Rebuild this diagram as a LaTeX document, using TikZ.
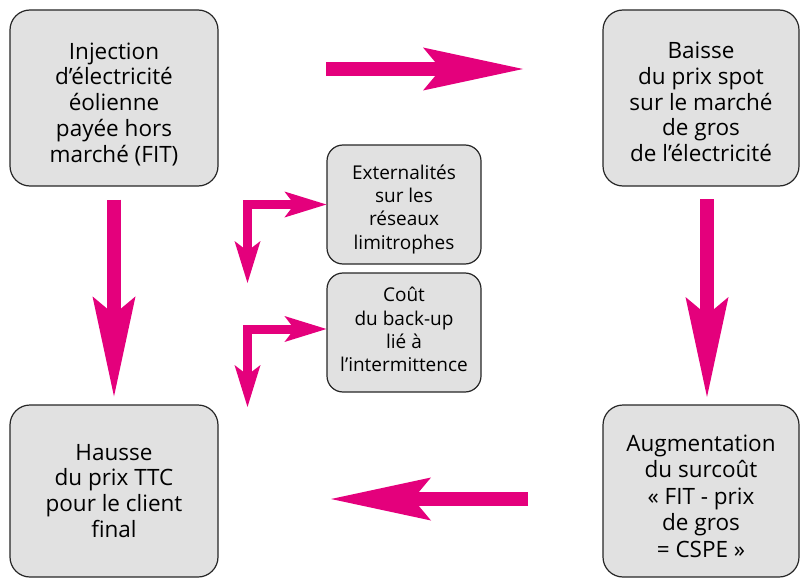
\documentclass[tikz,border=0pt]{standalone}
\usepackage{fontspec}
\setmainfont{Open Sans}
\usepackage{xcolor}
\usetikzlibrary{arrows.meta, positioning}

\definecolor{fitpink}{RGB}{228,0,124}
\definecolor{boxgrey}{RGB}{225,225,225}

% centred lines, moved up or down inside the box
\newcommand{\boxlines}[2][0pt]{\raisebox{#1}[\height][\depth]{\begin{tabular}{@{}c@{}}#2\end{tabular}}}

\tikzset{
  bigbox/.style={draw=black!85, line width=1.2pt, fill=boxgrey, rounded corners=20pt,
    inner sep=0pt, minimum height=176pt, font=\fontsize{22.5}{25.7}\selectfont},
  smallbox/.style={bigbox, rounded corners=16pt, minimum width=154pt, minimum height=119pt,
    font=\fontsize{19}{23.3}\selectfont},
  bigtip/.style={-{Stealth[length=100pt, width=43pt, inset=18pt, line width=0pt]}},
  bigarrow/.style={draw=fitpink, line width=14pt, bigtip},
  smalltip/.tip={Stealth[length=42pt, width=26pt, inset=10pt, line width=0pt]},
  smallarrow/.style={draw=fitpink, line width=9pt, line join=miter, smalltip-smalltip}
}

\begin{document}
\begin{tikzpicture}[x=1pt, y=-1pt]
\useasboundingbox (0,0) rectangle (801,578);

% boxes
\node[bigbox, minimum width=208pt] (inj) at (114,98) {\boxlines[-7.5pt]{Injection\\d’électricité\\éolienne\\payée hors\\marché (FIT)}};
\node[bigbox, minimum width=196pt] (baisse) at (701,98) {\boxlines[-7pt]{Baisse\\du prix spot\\sur le marché\\de gros\\de l’électricité}};
\node[bigbox, minimum width=208pt, minimum height=172pt] (hausse) at (114,491) {\boxlines[-2.5pt]{Hausse\\du prix TTC\\pour le client\\final}};
\node[bigbox, minimum width=196pt, minimum height=172pt, font=\fontsize{22.5}{26.5}\selectfont] (augm) at (701,491) {\boxlines[-8pt]{Augmentation\\du surcoût\\« FIT - prix\\de gros\\= CSPE »}};
\node[smallbox] (ext) at (404,204.5) {\boxlines[-5pt]{Externalités\\sur les\\réseaux\\limitrophes}};
\node[smallbox] (cout) at (404,332.5) {\boxlines[0.5pt]{Coût\\du back-up\\lié à\\l’intermittence}};

% big arrows
\coordinate (inj-out) at (326,69);
\coordinate (baisse-in) at (523,69);
\coordinate (baisse-out) at (707,199);
\coordinate (augm-in) at (707,397);
\coordinate (augm-out) at (528,499);
\coordinate (hausse-in) at (331,499);
\draw[bigarrow] (inj-out) -- (baisse-in);
\draw[bigarrow] (baisse-out) -- (augm-in);
\draw[bigarrow] (augm-out) -- (hausse-in);
\draw[bigarrow, shorten <=13pt, shorten >=8pt] (inj.south) -- (hausse.north);

% side arrows
\coordinate (ext-c) at (247.5,204.5);
\coordinate (ext-d) at (247.5,283);
\coordinate (cout-c) at (247.5,329);
\coordinate (cout-d) at (247.5,407);
\draw[smallarrow] (ext.west) -- (ext-c) -- (ext-d);
\draw[smallarrow] (cout.west |- cout-c) -- (cout-c) -- (cout-d);
\end{tikzpicture}
\end{document}
